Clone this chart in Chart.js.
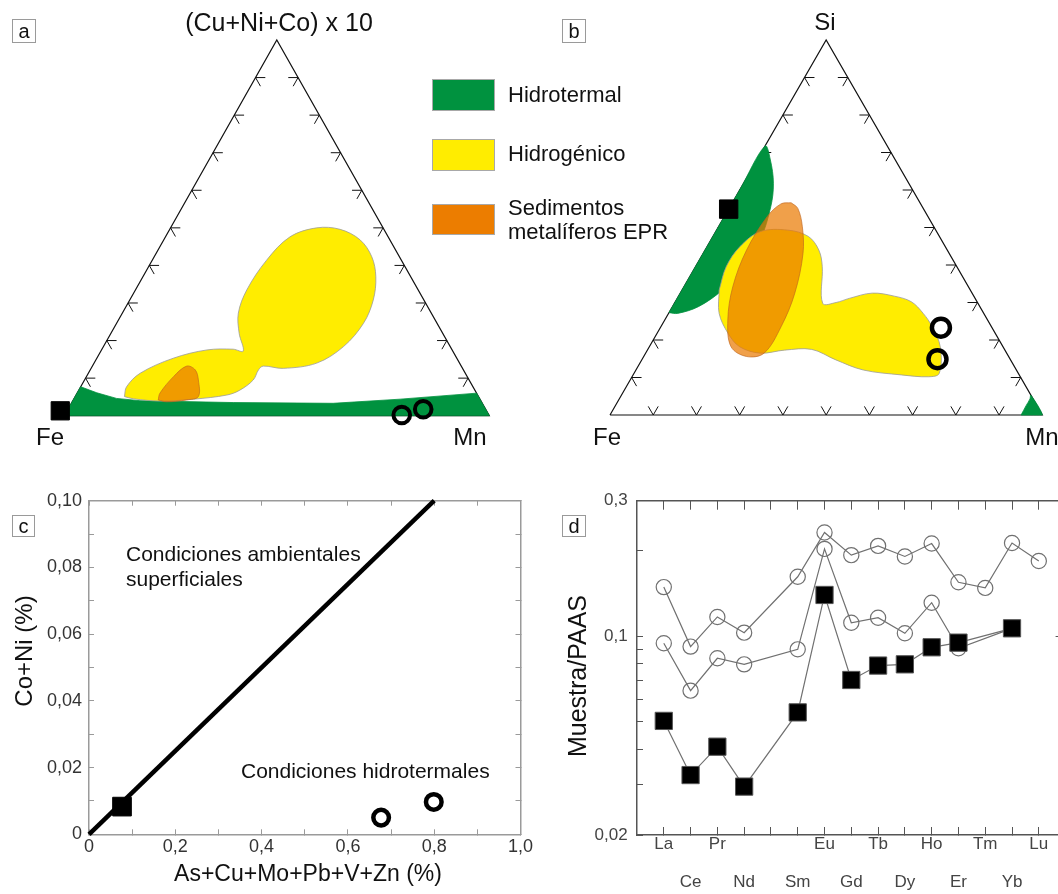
<!DOCTYPE html>
<html>
<head>
<meta charset="utf-8">
<script src="https://cdn.jsdelivr.net/npm/chart.js@4.4.1/dist/chart.umd.min.js"></script>
<style>
  html, body { margin: 0; padding: 0; background: #fff; overflow: hidden; }
  body { width: 1058px; height: 894px; position: relative; font-family: 'Liberation Sans', Arial, sans-serif; color: #111; }
  canvas { position: absolute; }
  .t { position: absolute; white-space: nowrap; transform: translate(-50%, -50%); line-height: 1; }
  .l { position: absolute; white-space: nowrap; transform: translate(0, -50%); line-height: 1; }
  .rot { position: absolute; white-space: nowrap; transform: translate(-50%, -50%) rotate(-90deg); line-height: 1; }
  .box { position: absolute; border: 1px solid #9a9a9a; box-sizing: border-box; font-size: 20px;
         display: flex; align-items: center; justify-content: center; }
  .sw { position: absolute; border: 1px solid #a8a8a8; box-sizing: border-box; }
</style>
</head>
<body>

<canvas id="cA" width="530" height="450" style="left:0;top:0"></canvas>
<canvas id="cB" width="528" height="450" style="left:530px;top:0"></canvas>
<canvas id="cC" width="550" height="444" style="left:0;top:450px"></canvas>
<canvas id="cD" width="540" height="444" style="left:530px;top:450px"></canvas>

<!-- a -->
<div class="box" style="left:12px;top:19px;width:24px;height:24px">a</div>
<div class="t" style="left:279px;top:22px;font-size:25px">(Cu+Ni+Co) x 10</div>
<div class="t" style="left:50px;top:437px;font-size:24px">Fe</div>
<div class="t" style="left:470px;top:437px;font-size:24px">Mn</div>

<!-- leyenda -->
<div class="sw" style="left:432px;top:79px;width:63px;height:32px;background:#00923f"></div>
<div class="sw" style="left:432px;top:139px;width:63px;height:32px;background:#ffed00"></div>
<div class="sw" style="left:432px;top:204px;width:63px;height:31px;background:#ec7d00"></div>
<div class="l" style="left:508px;top:95px;font-size:22px">Hidrotermal</div>
<div class="l" style="left:508px;top:154px;font-size:22px">Hidrogénico</div>
<div class="l" style="left:508px;top:208px;font-size:22px">Sedimentos</div>
<div class="l" style="left:508px;top:232px;font-size:22px">metalíferos EPR</div>

<!-- b -->
<div class="box" style="left:562px;top:19px;width:24px;height:24px">b</div>
<div class="t" style="left:825px;top:22px;font-size:24px">Si</div>
<div class="t" style="left:607px;top:437px;font-size:24px">Fe</div>
<div class="t" style="left:1042px;top:437px;font-size:24px">Mn</div>

<!-- c -->
<div class="box" style="left:12px;top:515px;width:23px;height:22px">c</div>
<div class="l" style="left:126px;top:553px;font-size:21px">Condiciones ambientales</div>
<div class="l" style="left:126px;top:578px;font-size:21px">superficiales</div>
<div class="l" style="left:241px;top:770px;font-size:21px">Condiciones hidrotermales</div>
<div class="rot" style="left:24px;top:651px;font-size:24px">Co+Ni (%)</div>
<div class="t" style="left:308px;top:873px;font-size:23px">As+Cu+Mo+Pb+V+Zn (%)</div>

<!-- d -->
<div class="box" style="left:562px;top:515px;width:24px;height:22px">d</div>
<div class="rot" style="left:577px;top:676px;font-size:25px">Muestra/PAAS</div>

<script>
Chart.defaults.font.family = "'Liberation Sans', Arial, sans-serif";

// ---------- diagramas ternarios: [vértice superior %, Mn %] (resto Fe) ----------
const marcasTern = [0.1, 0.2, 0.3, 0.4, 0.5, 0.6, 0.7, 0.8, 0.9];

// a) (Cu+Ni+Co)x10 - Fe - Mn
const hidrotermalA = [[0, 0], [7.7, 0], [6.1, 4.6], [4.6, 10.0], [4.0, 15.8], [3.5, 38.0], [3.3, 61.6], [4.4, 76.8], [6.0, 94.0], [0, 100]];
const hidrogenicoA = [[5.1, 11.6], [7.7, 10.8], [11.3, 12.2], [15.3, 18.0], [17.5, 24.8], [17.7, 30.9], [17.2, 33.5], [21.9, 30.2],
  [27.3, 27.3], [33.5, 26.2], [41.4, 26.9], [47.6, 29.3], [50.0, 34.4], [49.6, 40.1], [46.8, 46.2], [42.3, 51.2], [37.0, 54.8],
  [30.8, 57.3], [24.6, 58.1], [18.4, 56.5], [14.0, 52.4], [12.6, 45.2], [13.2, 40.2], [12.2, 39.6], [9.5, 39.7], [6.8, 37.9],
  [5.5, 35.5], [4.4, 28.2], [3.9, 20.6], [4.5, 14.0]];
const eprA = [[4.2, 20.0], [6.0, 19.5], [10.4, 20.5], [13.2, 22.2], [12.2, 24.7], [9.5, 26.8], [5.1, 29.0], [4.2, 26.7], [3.7, 22.2]];
const cuadradoA = [[1.3, -1.6]];
const circulosA = [[0.2, 79.3], [1.7, 83.6]];

// b) Si - Fe - Mn
const hidrotermalB = [[27.3, 0], [38, 0], [50, 0], [60, 0], [71.7, 0], [68.0, 3.1], [61.8, 6.9], [55.6, 9.4], [46.7, 11.4],
  [39.6, 11.0], [33.3, 9.3], [28.9, 6.0], [27.1, 2.1]];
const hidrotermalB2 = [[0, 95.1], [2.5, 95.0], [4.3, 95.0], [5.3, 94.7], [0, 100]];
const hidrogenicoB = [[33.3, 8.6], [39.6, 7.1], [44.9, 7.6], [48.9, 10.3], [49.3, 16.5], [47.6, 22.1], [44.0, 26.3], [39.6, 29.3],
  [29.8, 34.3], [30.0, 37.3], [31.1, 39.8], [32.5, 44.4], [31.7, 49.9], [30.2, 54.6], [27.1, 58.9], [23.6, 62.7], [18.2, 67.3],
  [11.1, 70.6], [10.2, 68.6], [10.7, 62.0], [12.0, 52.6], [14.7, 44.9], [17.5, 37.9], [17.3, 31.7], [16.5, 26.5], [18.2, 20.9],
  [21.8, 16.4], [27.1, 11.7]];
const eprB = [[56.6, 13.6], [55.1, 15.9], [50.2, 19.4], [43.1, 23.1], [32.5, 26.5], [23.6, 27.8], [16.5, 27.4], [15.6, 23.8],
  [18.2, 18.9], [25.3, 14.6], [34.2, 11.3], [44.0, 9.6], [52.9, 9.9], [56.3, 11.4]];
const cuadradoB = [[54.9, 0]];
const circulosB = [[23.3, 64.9], [14.9, 68.3]];

// ---------- c ----------
const xTicksC = [0, 0.1, 0.2, 0.3, 0.4, 0.5, 0.6, 0.7, 0.8, 0.9, 1.0];
const xLabelsC = ['0', '', '0,2', '', '0,4', '', '0,6', '', '0,8', '', '1,0'];
const yTicksC = [0, 0.01, 0.02, 0.03, 0.04, 0.05, 0.06, 0.07, 0.08, 0.09, 0.1];
const yLabelsC = ['0', '', '0,02', '', '0,04', '', '0,06', '', '0,08', '', '0,10'];
const limiteX = [0, 0.8];
const limiteY = [0, 0.1];
const cuadradoCx = [0.0765], cuadradoCy = [0.0083];
const circulosCx = [0.677, 0.799], circulosCy = [0.005, 0.0097];

// ---------- d ----------
const tierras = ['La', 'Ce', 'Pr', 'Nd', 'Pm', 'Sm', 'Eu', 'Gd', 'Tb', 'Dy', 'Ho', 'Er', 'Tm', 'Yb', 'Lu'];
const etiquetasD = ['La', 'Ce', 'Pr', 'Nd', '', 'Sm', 'Eu', 'Gd', 'Tb', 'Dy', 'Ho', 'Er', 'Tm', 'Yb', 'Lu'];
const muestra1 = [0.149, 0.092, 0.117, 0.103, null, 0.162, 0.232, 0.193, 0.208, 0.191, 0.212, 0.155, 0.148, 0.213, 0.184];
const muestra2 = [0.0945, 0.0644, 0.0837, 0.0797, null, 0.090, 0.203, 0.1116, 0.1163, 0.1025, 0.1313, 0.0908, null, 0.1067, null];
const muestra3 = [0.0504, 0.0325, 0.0409, 0.0296, null, 0.054, 0.1398, 0.0702, 0.0789, 0.0797, 0.0915, 0.095, null, 0.1067, null];
const yTicksD = [0.02, 0.03, 0.04, 0.05, 0.06, 0.07, 0.08, 0.09, 0.1, 0.2, 0.3];
const yLabelsD = ['0,02', '', '', '', '', '', '', '', '0,1', '', '0,3'];

// ---------- utilidades ----------
function tern(list) {
  return list.map(p => ({ x: p[1] / 100 + p[0] / 200, y: p[0] / 100 }));
}

function marcas(k) {
  const pts = [];
  const seg = (x, y, dx, dy) => { pts.push({ x: x, y: y }, { x: x + dx, y: y + dy }, { x: NaN, y: NaN }); };
  marcasTern.forEach(t => {
    seg(t / 2, t, k, 0); seg(t / 2, t, k / 2, -k);
    seg(1 - t / 2, t, -k, 0); seg(1 - t / 2, t, -k / 2, -k);
    seg(t, 0, -k / 2, k); seg(t, 0, k / 2, k);
  });
  return pts;
}

function region(pts, color, borde, tension, order) {
  return { data: tern(pts.concat([pts[0]])), backgroundColor: color, borderColor: borde, borderWidth: 0.8,
           fill: 'shape', pointRadius: 0, tension: tension, clip: false, order: order };
}

function puntos(data, estilo, r, fondo, bw, order) {
  return { data: data, showLine: false, pointStyle: estilo, pointRadius: r, pointBackgroundColor: fondo,
           pointBorderColor: '#000', pointBorderWidth: bw, clip: false, order: order };
}

const base = {
  responsive: false, animation: false, devicePixelRatio: 1, events: [],
  plugins: { legend: { display: false }, tooltip: { enabled: false } }
};

function ternario(id, pad, capas) {
  capas.push({ data: marcas(0.023), borderColor: '#111', borderWidth: 1, pointRadius: 0, clip: false, order: 8 });
  capas.push({ data: tern([[0, 0], [0, 100], [100, 0], [0, 0]]), borderColor: '#111', borderWidth: 1.2, pointRadius: 0, clip: false, order: 9 });
  new Chart(document.getElementById(id), {
    type: 'line',
    data: { datasets: capas },
    options: Object.assign({}, base, {
      layout: { padding: pad, autoPadding: false },
      scales: {
        x: { type: 'linear', display: false, min: 0, max: 1 },
        y: { type: 'linear', display: false, min: 0, max: 1 }
      }
    })
  });
}

const verde = '#00923f', amarillo = '#ffed00', naranja = 'rgba(234,121,0,0.71)';

ternario('cA', { left: 64.3, right: 40.7, top: 40, bottom: 34.3 }, [
  puntos(tern(cuadradoA), 'rect', 12.9, '#000', 1, 0),
  puntos(tern(circulosA), 'circle', 8.3, 'rgba(0,0,0,0)', 4, 1),
  region(eprA, naranja, 'rgba(190,100,30,0.8)', 0.35, 2),
  region(hidrogenicoA, amarillo, '#9a9a9a', 0.35, 3),
  region(hidrotermalA, verde, verde, 0, 4)
]);

ternario('cB', { left: 80, right: 15.7, top: 40, bottom: 35 }, [
  puntos(tern(cuadradoB), 'rect', 13, '#000', 1, 0),
  puntos(tern(circulosB), 'circle', 9, 'rgba(0,0,0,0)', 4.5, 1),
  region(eprB, naranja, 'rgba(190,100,30,0.8)', 0.35, 2),
  region(hidrogenicoB, amarillo, '#9a9a9a', 0.35, 3),
  region(hidrotermalB, verde, verde, 0.35, 4),
  region(hidrotermalB2, verde, verde, 0.3, 5)
]);

// tamaños fijos de los ejes (sin relleno extra por las etiquetas)
const ancho = w => s => { s.width = w; s.paddingTop = 0; s.paddingBottom = 0; };
const alto = h => s => { s.height = h; s.paddingLeft = 0; s.paddingRight = 0; };
const setTicks = arr => s => { s.ticks = arr.map(v => ({ value: v })); };

// ---------- c ----------
const gridC = { drawOnChartArea: false, color: '#9a9a9a', lineWidth: 1, tickLength: -5 };
const bordeC = { color: '#9a9a9a', width: 1.5 };

new Chart(document.getElementById('cC'), {
  type: 'line',
  data: { datasets: [
    puntos(cuadradoCx.map((x, i) => ({ x: x, y: cuadradoCy[i] })), 'rect', 13.2, '#000', 1, 0),
    puntos(circulosCx.map((x, i) => ({ x: x, y: circulosCy[i] })), 'circle', 7.8, 'rgba(0,0,0,0)', 4.5, 1),
    { data: limiteX.map((x, i) => ({ x: x, y: limiteY[i] })), borderColor: '#000', borderWidth: 4.5, pointRadius: 0, clip: false, order: 2 }
  ]},
  options: Object.assign({}, base, {
    layout: { autoPadding: false },
    scales: {
      x: { type: 'linear', position: 'bottom', min: 0, max: 1, afterBuildTicks: setTicks(xTicksC), afterFit: alto(59.7),
           ticks: { callback: (v, i) => xLabelsC[i], font: { size: 18 }, color: '#333', padding: 6.6, maxRotation: 0, autoSkip: false, source: 'data' },
           grid: gridC, border: bordeC },
      x2: { type: 'linear', position: 'top', min: 0, max: 1, afterBuildTicks: setTicks(xTicksC), afterFit: alto(50.7),
            ticks: { display: false }, grid: gridC, border: bordeC },
      y: { type: 'linear', position: 'left', min: 0, max: 0.1, afterBuildTicks: setTicks(yTicksC), afterFit: ancho(89),
           ticks: { callback: (v, i) => yLabelsC[i], font: { size: 18 }, color: '#333', padding: 12, autoSkip: false, source: 'data' },
           grid: gridC, border: bordeC },
      y2: { type: 'linear', position: 'right', min: 0, max: 0.1, afterBuildTicks: setTicks(yTicksC), afterFit: ancho(29.5),
            ticks: { display: false }, grid: gridC, border: bordeC }
    }
  })
});

// ---------- d ----------
const gris = '#707070';
function serie(vals, circulo, order) {
  return {
    data: vals.map((v, i) => ({ x: i, y: v })), spanGaps: true, borderColor: gris, borderWidth: 1.2,
    pointStyle: circulo ? 'circle' : 'rect', pointRadius: circulo ? 7.6 : 12.2,
    pointBackgroundColor: circulo ? 'rgba(0,0,0,0)' : '#000', pointBorderColor: circulo ? gris : '#555',
    pointBorderWidth: circulo ? 1.2 : 1, clip: false, order: order
  };
}
const gridD = { drawOnChartArea: false, color: '#555', lineWidth: 1 };
const bordeD = { color: '#555', width: 1.5 };
const posD = tierras.map((t, i) => i);

new Chart(document.getElementById('cD'), {
  type: 'line',
  data: { datasets: [serie(muestra3, false, 0), serie(muestra2, true, 1), serie(muestra1, true, 2)] },
  options: Object.assign({}, base, {
    layout: { autoPadding: false },
    scales: {
      x: { type: 'linear', position: 'bottom', min: -1, max: 15, afterBuildTicks: setTicks(posD), afterFit: alto(59),
           ticks: { callback: (v, i) => (i % 2 === 0 ? [etiquetasD[i], ''] : ['', etiquetasD[i]]),
                    font: { size: 17, lineHeight: '38px' }, color: '#444', padding: -1.7, maxRotation: 0, autoSkip: false, source: 'data' },
           grid: Object.assign({}, gridD, { tickLength: -8 }), border: bordeD },
      x2: { type: 'linear', position: 'top', min: -1, max: 15, afterBuildTicks: setTicks(posD), afterFit: alto(50.7),
            ticks: { display: false }, grid: Object.assign({}, gridD, { tickLength: -9 }), border: bordeD },
      y: { type: 'logarithmic', position: 'left', min: 0.02, max: 0.3, afterBuildTicks: setTicks(yTicksD), afterFit: ancho(107),
           ticks: { callback: (v, i) => yLabelsD[i], font: { size: 17 }, color: '#444', padding: 15.4, autoSkip: false, source: 'data' },
           grid: Object.assign({}, gridD, { tickLength: -6 }), border: bordeD },
      y2: { type: 'logarithmic', position: 'right', min: 0.02, max: 0.3, afterBuildTicks: setTicks([0.1]), afterFit: ancho(4.4),
            ticks: { display: false }, grid: Object.assign({}, gridD, { tickLength: -10 }), border: bordeD }
    }
  })
});
</script>
</body>
</html>
